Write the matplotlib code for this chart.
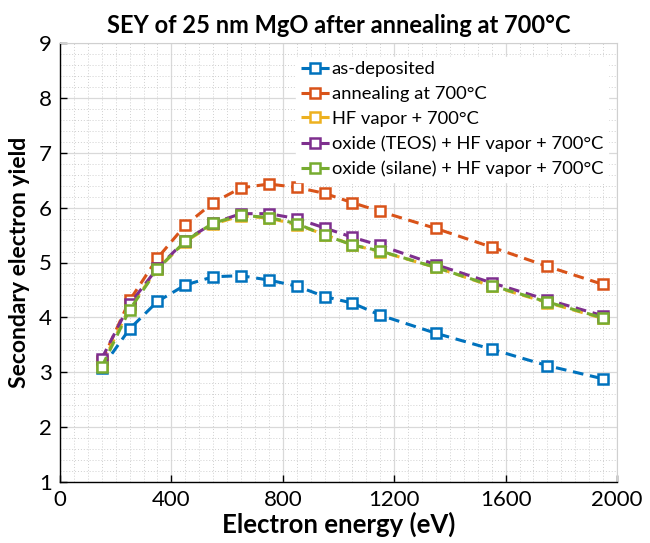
import matplotlib
matplotlib.use("Agg")
import matplotlib.pyplot as plt
from matplotlib.ticker import MultipleLocator

energy = [150, 250, 350, 450, 550, 650, 750, 850, 950, 1050, 1150, 1350, 1550, 1750, 1950]
as_deposited = [3.08, 3.79, 4.29, 4.59, 4.74, 4.76, 4.68, 4.57, 4.38, 4.26, 4.04, 3.71, 3.42, 3.12, 2.88]
anneal_700 = [3.20, 4.31, 5.08, 5.68, 6.09, 6.36, 6.43, 6.37, 6.26, 6.09, 5.93, 5.62, 5.28, 4.93, 4.60]
hf_700 = [3.14, 4.18, 4.88, 5.38, 5.70, 5.85, 5.81, 5.69, 5.51, 5.32, 5.20, 4.91, 4.57, 4.27, 3.98]
teos_hf_700 = [3.25, 4.24, 4.90, 5.40, 5.72, 5.89, 5.89, 5.80, 5.63, 5.46, 5.31, 4.96, 4.63, 4.32, 4.03]
silane_hf_700 = [3.10, 4.14, 4.88, 5.39, 5.72, 5.86, 5.82, 5.71, 5.50, 5.32, 5.21, 4.91, 4.58, 4.28, 3.99]

labels = ["as-deposited", "annealing at 700°C", "HF vapor + 700°C",
          "oxide (TEOS) + HF vapor + 700°C", "oxide (silane) + HF vapor + 700°C"]
colors = ["#0072BD", "#D95319", "#EDB120", "#7E2F8E", "#77AC30"]
series = [as_deposited, anneal_700, hf_700, teos_hf_700, silane_hf_700]

plt.rcParams['font.family'] = ['Lato', 'DejaVu Sans']

fig = plt.figure(figsize=(6.5, 5.43), dpi=100)
ax = fig.add_axes([60/650, 1-482/543, (617-60)/650, (482-43)/543])

for y, c, lab in zip(series, colors, labels):
    ax.plot(energy, y, linestyle=(0, (3.5, 2.2)), color=c, lw=2.2, marker='s',
            markersize=7, markerfacecolor='white', markeredgecolor=c,
            markeredgewidth=1.8, label=lab)

ax.set_xlim(0, 2000)
ax.set_ylim(1, 9)
ax.xaxis.set_major_locator(MultipleLocator(400))
ax.xaxis.set_minor_locator(MultipleLocator(50))
ax.yaxis.set_major_locator(MultipleLocator(1))
ax.yaxis.set_minor_locator(MultipleLocator(0.2))
ax.grid(which='major', color='#d9d9d9', lw=0.9, ls='-')
ax.grid(which='minor', color='#d0d0d0', lw=0.7, ls=(0, (1, 2)))
ax.set_axisbelow(True)
ax.tick_params(which='major', direction='in', length=5, width=1, labelsize=16, pad=6)
ax.tick_params(which='minor', length=0)
for s in ['left', 'bottom']:
    ax.spines[s].set_color('black')
    ax.spines[s].set_linewidth(1.0)
for s in ['top', 'right']:
    ax.spines[s].set_color('#d0d0d0')
    ax.spines[s].set_linewidth(0.8)

ax.set_title("SEY of 25 nm MgO after annealing at 700°C", fontsize=17, fontweight='bold', pad=7)
ax.set_xlabel("Electron energy (eV)", fontsize=18.5, fontweight='bold', labelpad=1)
ax.set_ylabel("Secondary electron yield", fontsize=16.5, fontweight='bold', labelpad=6)

leg = ax.legend(loc='upper right', bbox_to_anchor=(1.0, 0.99), frameon=True, fontsize=13.2,
                handlelength=1.6, handletextpad=0.1, labelspacing=0.48, borderpad=0.25,
                fancybox=False)
leg.get_frame().set_edgecolor('white')
leg.get_frame().set_facecolor('white')
leg.get_frame().set_alpha(1.0)

fig.savefig("out.png", dpi=100)
